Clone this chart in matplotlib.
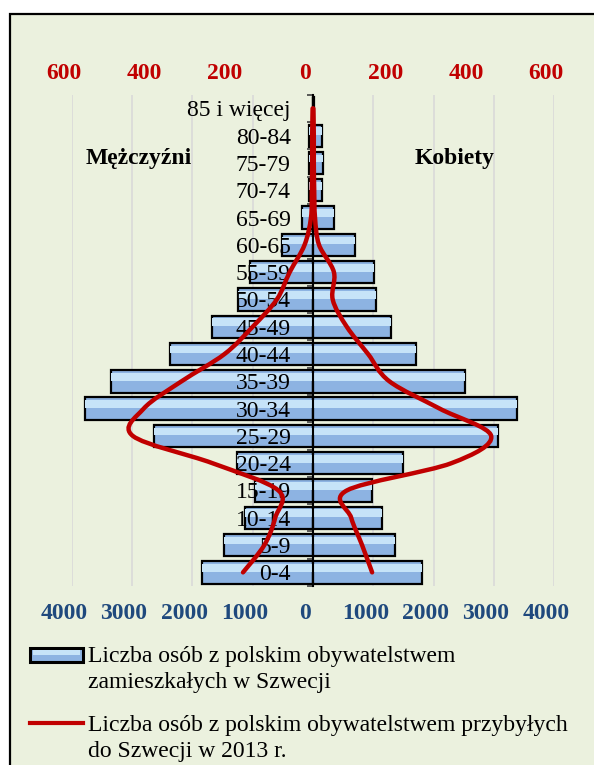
import matplotlib.pyplot as plt
import matplotlib.transforms as mtransforms
from matplotlib.path import Path
from matplotlib.patches import PathPatch, Rectangle
from matplotlib.lines import Line2D
import numpy as np

plt.rcParams['font.family'] = ['Liberation Serif', 'DejaVu Serif']

# grupy wieku (od dołu)
ages = ['0-4', '5-9', '10-14', '15-19', '20-24', '25-29', '30-34', '35-39',
        '40-44', '45-49', '50-54', '55-59', '60-65', '65-69', '70-74',
        '75-79', '80-84', '85 i więcej']

# liczba osób z polskim obywatelstwem zamieszkałych w Szwecji (dolna oś)
men_total = [1845, 1480, 1125, 960, 1265, 2640, 3775, 3355, 2365, 1680,
             1240, 1045, 510, 180, 65, 65, 65, 5]
women_total = [1810, 1355, 1145, 980, 1490, 3075, 3380, 2525, 1700, 1285,
               1050, 1010, 690, 345, 155, 160, 155, 10]

# przybyli do Szwecji w 2013 r. (górna oś)
men_2013 = [174, 121, 94, 86, 250, 448, 421, 327, 220, 150, 90, 58, 21, 5,
            3, 2, 2, 1]
women_2013 = [147, 122, 95, 84, 344, 443, 315, 190, 137, 84, 49, 52, 15, 5,
              3, 2, 2, 1]

bottom_ticks = [-4000, -3000, -2000, -1000, 0, 1000, 2000, 3000, 4000]
top_ticks = [-600, -400, -200, 0, 200, 400, 600]

BG = '#EBF1DE'
RED = '#C00000'
BLUE_TXT = '#1F497D'
BAR = '#8DB3E2'
BAR_HI = '#C6E3F8'
FS = 17


def smooth_path(xs, ys):
    # krzywa wygładzona jak w Excelu (Bezier przez punkty)
    pts = np.column_stack([xs, ys]).astype(float)
    n = len(pts)
    verts = [pts[0]]
    codes = [Path.MOVETO]
    for i in range(n - 1):
        p0 = pts[max(i - 1, 0)]
        p1 = pts[i]
        p2 = pts[i + 1]
        p3 = pts[min(i + 2, n - 1)]
        verts += [p1 + (p2 - p0) / 6, p2 - (p3 - p1) / 6, p2]
        codes += [Path.CURVE4] * 3
    return Path(verts, codes)


W, H = 594, 765
fig = plt.figure(figsize=(W / 100, H / 100), dpi=100)
fig.patch.set_facecolor('white')

# ramka z tłem
fig.add_artist(Rectangle((10 / W, -0.1), 1.2, 1.1 - 14.5 / H, transform=fig.transFigure,
                         facecolor=BG, edgecolor='black', lw=1.6, zorder=-10))

ax = fig.add_axes([71.7 / W, 1 - 586 / H, 482.6 / W, (586 - 94.8) / H])
ax.set_facecolor('none')
y = np.arange(len(ages))
bh = 0.82

ax.barh(y, [-v for v in men_total], height=bh, color=BAR, edgecolor='black', lw=1.6, zorder=1)
ax.barh(y, women_total, height=bh, color=BAR, edgecolor='black', lw=1.6, zorder=1)
ax.barh(y + bh * 0.2, [-v for v in men_total], height=bh * 0.34, color=BAR_HI, lw=0, zorder=1.1)
ax.barh(y + bh * 0.2, women_total, height=bh * 0.34, color=BAR_HI, lw=0, zorder=1.1)

ax.set_xlim(-4000, 4000)
ax.set_ylim(-0.5, len(ages) - 0.5)
ax.set_axisbelow(True)
ax.xaxis.grid(True, color='#D9D9D9', lw=1.2)
ax.yaxis.set_zorder(2.5)

for s in ['top', 'right', 'bottom']:
    ax.spines[s].set_visible(False)
ax.spines['left'].set_position(('data', 0))
ax.spines['left'].set_linewidth(1.5)
ax.spines['left'].set_zorder(2.6)

ax.set_yticks(y)
ax.set_yticklabels(ages, fontsize=FS)
ax.set_yticks(np.arange(len(ages) + 1) - 0.5, minor=True)
ax.tick_params(axis='y', which='major', length=0, pad=16)
ax.tick_params(axis='y', which='minor', length=4, width=1.2, color='#404040', direction='out')

ax.set_xticks(bottom_ticks)
ax.set_xticklabels([str(abs(t)) for t in bottom_ticks], fontsize=FS, fontweight='bold', color=BLUE_TXT)
ax.tick_params(axis='x', length=0, pad=12)

ax.text(-2890, 14.95, 'Mężczyźni', fontsize=FS, fontweight='bold', ha='center', va='baseline')
ax.text(2350, 14.95, 'Kobiety', fontsize=FS, fontweight='bold', ha='center', va='baseline')

# górna oś - przybyli w 2013 r.
ax2 = ax.twiny()
ax2.set_xlim(-600, 600)
for s in ax2.spines.values():
    s.set_visible(False)
ax2.set_xticks(top_ticks)
ax2.set_xticklabels([str(abs(t)) for t in top_ticks], fontsize=FS, fontweight='bold', color=RED)
ax2.tick_params(axis='x', length=0, pad=8)

ax2.add_patch(PathPatch(smooth_path([-v for v in men_2013], y), facecolor='none',
                        edgecolor=RED, lw=3.2, capstyle='round', zorder=3))
ax2.add_patch(PathPatch(smooth_path(women_2013, y), facecolor='none',
                        edgecolor=RED, lw=3.2, capstyle='round', zorder=3))

shift = mtransforms.ScaledTranslation(-8 / 100, 0, fig.dpi_scale_trans)
for lab in ax.get_xticklabels() + ax2.get_xticklabels():
    lab.set_transform(lab.get_transform() + shift)

# legenda
fig.add_artist(Rectangle((30 / W, 1 - 662 / H), 53 / W, 14 / H, transform=fig.transFigure,
                         facecolor=BAR, edgecolor='black', lw=2.2))
fig.add_artist(Rectangle((33 / W, 1 - 655 / H), 47 / W, 5 / H, transform=fig.transFigure,
                         facecolor=BAR_HI, lw=0))
fig.add_artist(Line2D([30 / W, 83 / W], [1 - 723 / H] * 2, transform=fig.transFigure,
                      color=RED, lw=3))
fig.text(88 / W, 1 - 646 / H, 'Liczba osób z polskim obywatelstwem\nzamieszkałych w Szwecji',
         fontsize=FS, va='top', ha='left', linespacing=1.32)
fig.text(88 / W, 1 - 715 / H, 'Liczba osób z polskim obywatelstwem przybyłych\ndo Szwecji w 2013 r.',
         fontsize=FS, va='top', ha='left', linespacing=1.32)

fig.savefig('out.png', dpi=100, facecolor=fig.get_facecolor())
